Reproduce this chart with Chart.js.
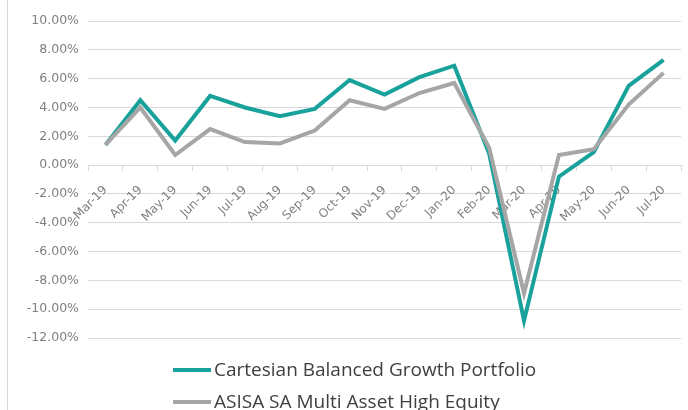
<!DOCTYPE html>
<html>
<head>
<meta charset="utf-8">
<script src="https://cdn.jsdelivr.net/npm/chart.js@4"></script>
<style>
  html, body { margin: 0; padding: 0; background: #fff; }
  #wrap { position: relative; width: 688px; height: 410px; overflow: hidden; }
  #frame { position: absolute; left: 7px; top: 0; width: 0; height: 410px; border-left: 1px solid #d9d9d9; }
  canvas { position: absolute; left: 0; top: 0; }
  .leg { position: absolute; left: 173px; font-family: "Open Sans", sans-serif; font-size: 19px; line-height: 26px; color: #404040; white-space: nowrap; }
  .leg span.sw { display: inline-block; width: 38px; height: 4px; vertical-align: middle; margin-right: 3px; position: relative; top: -1px; }
</style>
</head>
<body>
<div id="wrap">
  <div id="frame"></div>
  <canvas id="c" width="688" height="410"></canvas>
  <div id="legend"></div>
</div>
<script>
const categories = ["Mar-19","Apr-19","May-19","Jun-19","Jul-19","Aug-19","Sep-19","Oct-19","Nov-19","Dec-19","Jan-20","Feb-20","Mar-20","Apr-20","May-20","Jun-20","Jul-20"];
const seriesNames = ["Cartesian Balanced Growth Portfolio", "ASISA SA Multi Asset High Equity"];
const cartesian = [1.4, 4.5, 1.7, 4.8, 4.0, 3.4, 3.9, 5.9, 4.9, 6.1, 6.9, 0.8, -10.8, -0.8, 0.9, 5.5, 7.3];
const asisa =     [1.4, 4.0, 0.7, 2.5, 1.6, 1.5, 2.4, 4.5, 3.9, 5.0, 5.7, 1.2, -8.9, 0.7, 1.1, 4.2, 6.4];
const yTicks = [10, 8, 6, 4, 2, 0, -2, -4, -6, -8, -10, -12];
const colors = ["#19a19c", "#a6a6a6"];

const ctx = document.getElementById('c');
new Chart(ctx, {
  type: 'line',
  data: {
    labels: categories,
    datasets: [
      { label: seriesNames[0], data: cartesian, borderColor: colors[0], backgroundColor: colors[0], borderWidth: 4, pointRadius: 0, tension: 0, order: 1 },
      { label: seriesNames[1], data: asisa, borderColor: colors[1], backgroundColor: colors[1], borderWidth: 4, pointRadius: 0, tension: 0, order: 0 }
    ]
  },
  options: {
    responsive: false,
    animation: false,
    layout: { padding: { left: 8, right: 7, top: 21, bottom: 72 } },
    plugins: { legend: { display: false }, tooltip: { enabled: false } },
    scales: {
      x: {
        position: { y: 0 },
        offset: true,
        grid: { offset: true, drawOnChartArea: false, drawTicks: true, tickLength: 5, color: '#d9d9d9' },
        border: { display: true, color: '#d9d9d9', width: 1 },
        ticks: { minRotation: 45, maxRotation: 45, autoSkip: false, padding: 13, color: '#7f7f7f', font: { family: 'DejaVu Sans', size: 12 } }
      },
      y: {
        min: Math.min(...yTicks), max: Math.max(...yTicks),
        afterFit: (s) => { s.width = 80; },
        afterBuildTicks: (s) => { s.ticks = yTicks.map(v => ({ value: v })); },
        grid: { color: '#d9d9d9', drawTicks: false, lineWidth: 1 },
        border: { display: false },
        ticks: { padding: 9, color: '#7f7f7f', font: { family: 'DejaVu Sans', size: 12.5 }, callback: (v) => v.toFixed(2) + '%' }
      }
    }
  }
});

const legend = document.getElementById('legend');
const tops = [356, 388];
seriesNames.forEach((n, i) => {
  const d = document.createElement('div');
  d.className = 'leg';
  d.style.top = tops[i] + 'px';
  d.innerHTML = '<span class="sw" style="background:' + colors[i] + '"></span>' + n;
  legend.appendChild(d);
});
</script>
</body>
</html>
